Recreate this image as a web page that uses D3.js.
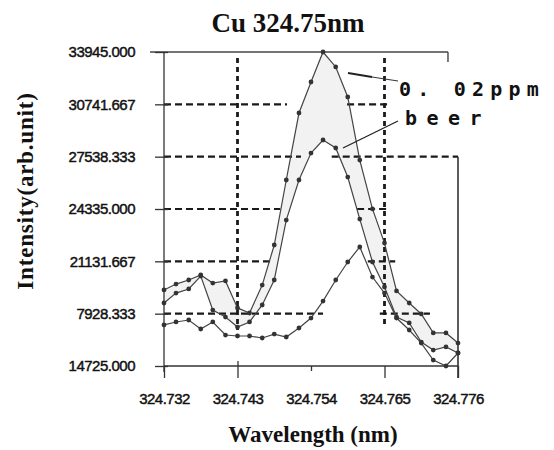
<!DOCTYPE html>
<html>
<head>
<meta charset="utf-8">
<script src="https://cdn.jsdelivr.net/npm/d3@7"></script>
<style>
  body { margin: 0; background: #fff; }
  svg { display: block; }
</style>
</head>
<body>
<div id="chart"></div>
<script>
// wavelength grid of the scan (nm)
const wavelength = [324.7320, 324.7338, 324.7357, 324.7375, 324.7393, 324.7412, 324.7430, 324.7448,
  324.7467, 324.7485, 324.7503, 324.7522, 324.7540, 324.7558, 324.7577, 324.7595, 324.7613,
  324.7632, 324.7650, 324.7668, 324.7687, 324.7705, 324.7723, 324.7742, 324.7760]

// intensities
const ppm002 = [19380, 19740, 19990, 20300, 19800, 19930, 18280, 17970, 19680, 22130, 26110, 30210,
  32110, 33945, 33030, 31190, 27330, 24340, 22250, 19320, 18580, 17910, 16750, 16750, 16130]
const beer = [18580, 19190, 19440, 20230, 18150, 17720, 17110, 17420, 18460, 19990, 23660, 26110,
  27760, 28560, 28070, 26290, 23720, 21090, 19560, 17720, 17360, 16190, 15700, 15890, 15520]
const blank = [17240, 17420, 17540, 16990, 17420, 16620, 16560, 16560, 16440, 16680, 16500, 17050,
  17660, 18700, 19990, 21090, 22010, 20170, 19190, 17660, 16930, 16130, 15090, 14725, 15520]

const yTicks = [14725, 17928.333, 21131.667, 24335, 27538.333, 30741.667, 33945]
const yTickLabels = ["14725.000", "7928.333", "21131.667", "24335.000", "27538.333", "30741.667", "33945.000"]
const xTicks = [324.732, 324.743, 324.754, 324.765, 324.776]

// dashed grid pieces (value, from, to)
const gridH = [
  [30741.667, 324.732, 324.7504], [30741.667, 324.7594, 324.7654],
  [27538.333, 324.732, 324.7525], [27538.333, 324.7571, 324.776],
  [24335, 324.732, 324.7494], [24335, 324.7609, 324.7654],
  [21131.667, 324.732, 324.7479], [21131.667, 324.7625, 324.7666],
  [17928.333, 324.732, 324.7558], [17928.333, 324.7643, 324.7718]
]
const gridV = [[324.743, 33578, 16930], [324.765, 33578, 17300]]

const width = 554, height = 450
const svg = d3.select("#chart").append("svg").attr("width", width).attr("height", height)

const x = d3.scaleLinear().domain([324.732, 324.776]).range([164, 458])
const y = d3.scaleLinear().domain([14725, 33945]).range([366, 52])

const ink = "#1a1a1a"
const sans = "Liberation Sans, Arial, sans-serif"
const serif = "Liberation Serif, Times New Roman, serif"

// band between the two upper traces
const rows = wavelength.map((w, i) => ({w: w, a: ppm002[i], b: beer[i]}))
svg.append("path")
  .datum(rows)
  .attr("fill", "#f2f2f2")
  .attr("d", d3.area().x(d => x(d.w)).y0(d => y(d.b)).y1(d => y(d.a)))

// grid
svg.append("g").selectAll("line").data(gridH).join("line")
  .attr("x1", d => x(d[1])).attr("x2", d => x(d[2]))
  .attr("y1", d => y(d[0])).attr("y2", d => y(d[0]))
  .attr("stroke", ink).attr("stroke-width", 2.2).attr("stroke-dasharray", "7,4")
svg.append("g").selectAll("line").data(gridV).join("line")
  .attr("x1", d => x(d[0])).attr("x2", d => x(d[0]))
  .attr("y1", d => y(d[1])).attr("y2", d => y(d[2]))
  .attr("stroke", ink).attr("stroke-width", 2.8).attr("stroke-dasharray", "5,4")

// frame bits
svg.append("line").attr("x1", x(324.732) - 14).attr("x2", x(324.7745)).attr("y1", y(33945)).attr("y2", y(33945))
  .attr("stroke", "#444").attr("stroke-width", 1.4)
svg.append("line").attr("x1", x(324.7745)).attr("x2", x(324.7745)).attr("y1", y(33945)).attr("y2", y(33945) + 10)
  .attr("stroke", "#444").attr("stroke-width", 1.4)
svg.append("line").attr("x1", x(324.776)).attr("x2", x(324.776)).attr("y1", y(27538.333)).attr("y2", y(14725) + 12)
  .attr("stroke", "#333").attr("stroke-width", 1.6)

// y axis
const yAxis = d3.axisLeft(y).tickValues(yTicks).tickFormat((d, i) => yTickLabels[i]).tickSize(9).tickPadding(20)
const ya = svg.append("g").attr("transform", `translate(${x(324.732)},0)`).call(yAxis)
ya.select(".domain").remove()
ya.selectAll(".tick line").attr("x1", 4).attr("stroke", "#333").attr("stroke-width", 1.3)
ya.selectAll(".tick text").attr("font-family", sans).attr("font-size", 15)
  .attr("fill", "#111").attr("stroke", "#111").attr("stroke-width", 0.45).attr("letter-spacing", -0.5)
svg.append("line").attr("x1", x(324.732)).attr("x2", x(324.732)).attr("y1", y(33945)).attr("y2", y(14725) + 6)
  .attr("stroke", "#333").attr("stroke-width", 1.3)

// x axis
const xAxis = d3.axisBottom(x).tickValues(xTicks).tickFormat(d3.format(".3f")).tickSize(10).tickPadding(17)
const xa = svg.append("g").attr("transform", `translate(0,${y(14725)})`).call(xAxis)
xa.select(".domain").remove()
xa.selectAll(".tick line").attr("stroke", "#333").attr("stroke-width", 1.3)
  .attr("y1", (d, i) => i == 1 ? -5 : 0).attr("y2", (d, i) => i == 2 ? 5 : 12)
xa.selectAll(".tick text").attr("font-family", sans).attr("font-size", 15)
  .attr("fill", "#111").attr("stroke", "#111").attr("stroke-width", 0.45).attr("letter-spacing", -0.5)
svg.append("line").attr("x1", x(324.732)).attr("x2", x(324.776)).attr("y1", y(14725)).attr("y2", y(14725))
  .attr("stroke", "#333").attr("stroke-width", 1.3)

// traces
const series = [ppm002, beer, blank]
const line = d3.line().x((d, i) => x(wavelength[i])).y(d => y(d))
series.forEach(s => {
  svg.append("path").datum(s).attr("fill", "none").attr("stroke", "#444").attr("stroke-width", 1.2).attr("d", line)
  svg.append("g").selectAll("circle").data(s).join("circle")
    .attr("cx", (d, i) => x(wavelength[i])).attr("cy", d => y(d)).attr("r", 2.4).attr("fill", "#333")
})

// trace labels with leaders
svg.append("line").attr("x1", 348).attr("y1", 73).attr("x2", 372).attr("y2", 77).attr("stroke", "#222").attr("stroke-width", 1.8)
svg.append("line").attr("x1", 372).attr("y1", 77).attr("x2", 398).attr("y2", 81).attr("stroke", "#333").attr("stroke-width", 1)
svg.append("line").attr("x1", 343).attr("y1", 148).attr("x2", 398).attr("y2", 121).attr("stroke", "#222").attr("stroke-width", 1.3)
svg.append("text").attr("x", 399).attr("y", 96).text("0. 02ppm")
  .attr("font-family", "DejaVu Sans Mono, monospace").attr("font-weight", "bold").attr("font-size", 20)
  .attr("letter-spacing", 6.2).attr("fill", "#111")
svg.append("text").attr("x", 405).attr("y", 125).text("beer")
  .attr("font-family", "DejaVu Sans Mono, monospace").attr("font-weight", "bold").attr("font-size", 20)
  .attr("letter-spacing", 9.5).attr("fill", "#111")

// titles
svg.append("text").attr("x", 288).attr("y", 32).attr("text-anchor", "middle").text("Cu 324.75nm")
  .attr("font-family", serif).attr("font-weight", "bold").attr("font-size", 27).attr("fill", "#111")
svg.append("text").attr("x", 313).attr("y", 442).attr("text-anchor", "middle").text("Wavelength (nm)")
  .attr("font-family", serif).attr("font-weight", "bold").attr("font-size", 23).attr("fill", "#111")
svg.append("text").attr("transform", "translate(33,191) rotate(-90)").attr("text-anchor", "middle").text("Intensity(arb.unit)")
  .attr("font-family", serif).attr("font-weight", "bold").attr("font-size", 23)
  .attr("letter-spacing", 0.8).attr("fill", "#111")
</script>
</body>
</html>
